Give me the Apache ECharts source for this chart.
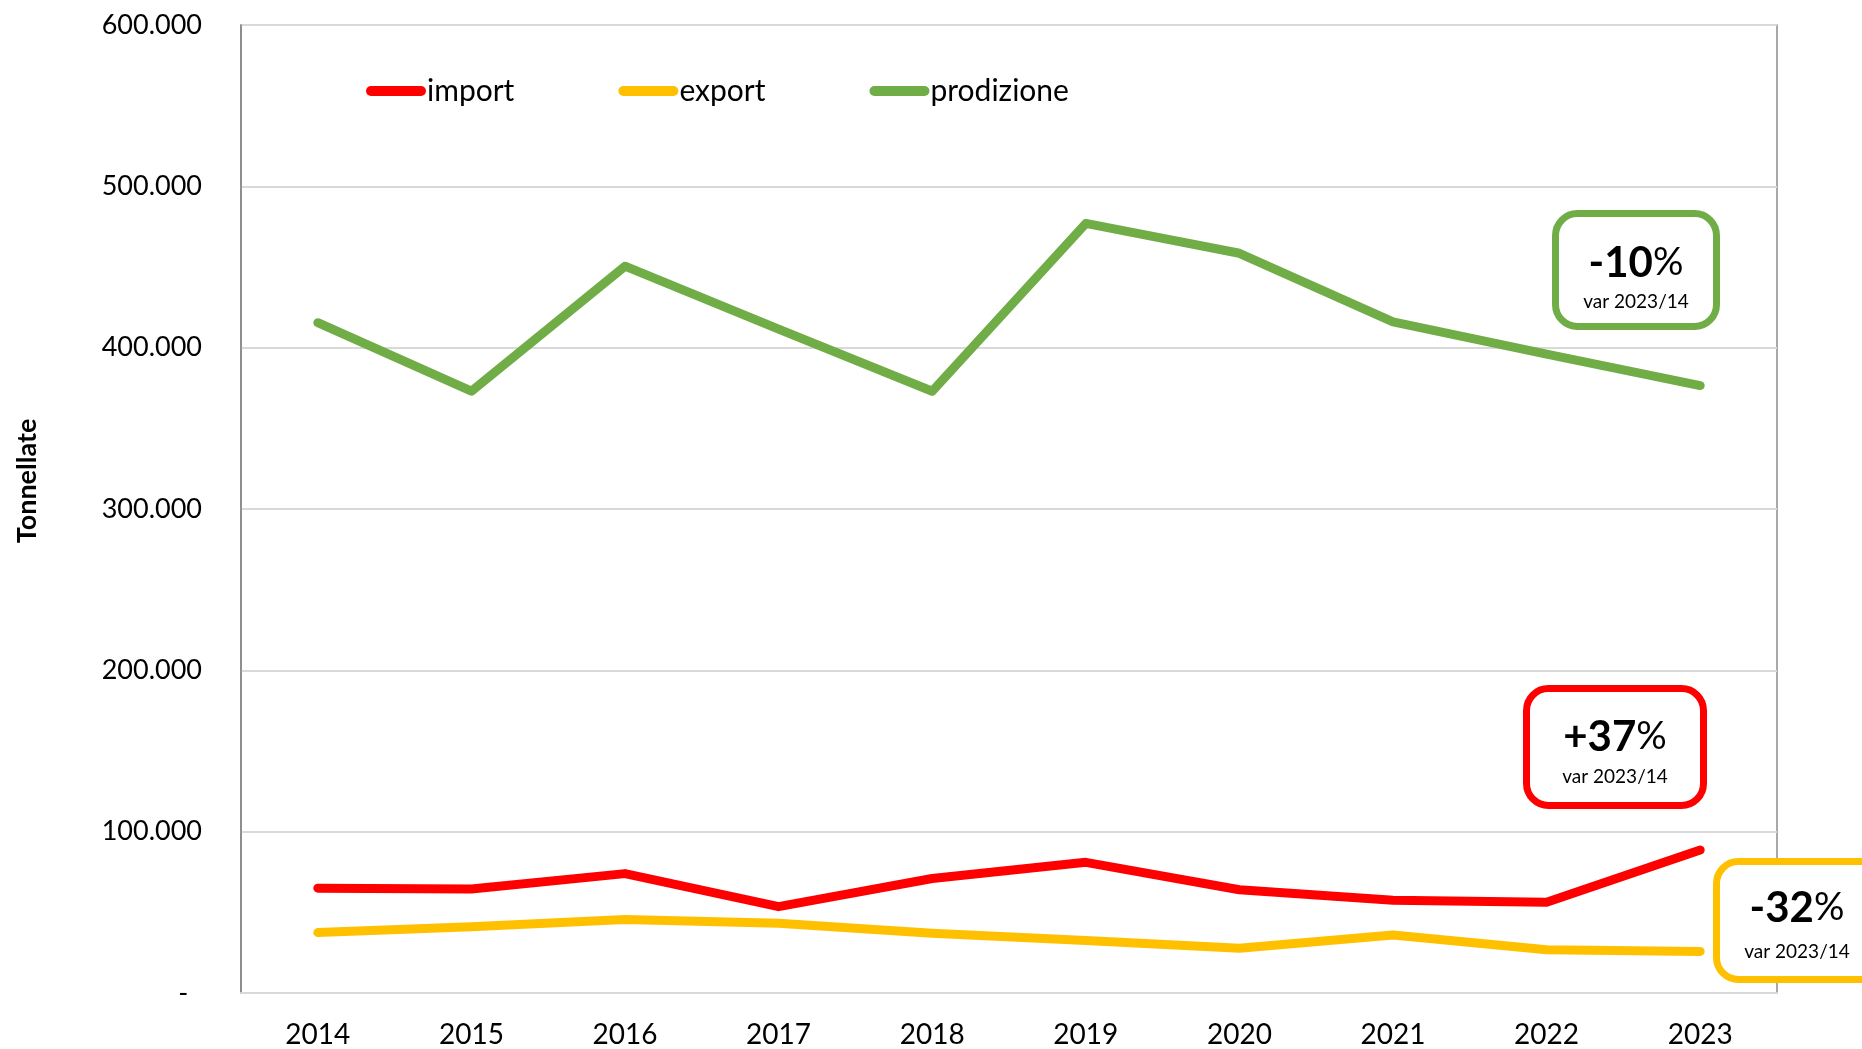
<!DOCTYPE html>
<html>
<head>
<meta charset="utf-8">
<title>import / export / prodizione</title>
<script src="https://cdn.jsdelivr.net/npm/echarts@6/dist/echarts.min.js"></script>
<style>
  html, body { margin: 0; padding: 0; background: #fff; }
  #main { width: 1862px; height: 1049px; }
</style>
</head>
<body>
<div id="main"></div>
<script>
// anni
var years = ['2014', '2015', '2016', '2017', '2018', '2019', '2020', '2021', '2022', '2023'];
// tonnellate
var importData = [65000, 64500, 74000, 53500, 71000, 81000, 64000, 57500, 56300, 88600];
var exportData = [37500, 41000, 45500, 43300, 37000, 32500, 27800, 36000, 26800, 25800];
var prodData = [415500, 373000, 450500, 411500, 373000, 477000, 458500, 416000, 396000, 376500];
// riquadri var 2023/14
var varLabels = ['+37', '-32', '-10'];

var FONT = 'Lato, "Open Sans", sans-serif';
var RED = '#FF0000', YELLOW = '#FFC000', GREEN = '#70AD47';

function fmtTon(v) {
    if (v === 0) return '-  ';
    return (v / 1000) + '.000';
}

// box con variazione %
function varBox(x, y, w, h, color, label, cx, cy1, cy2) {
    return {
        type: 'group',
        z: 100,
        children: [
            {
                type: 'rect',
                shape: { x: x, y: y, width: w, height: h, r: 22 },
                style: { fill: '#fff', stroke: color, lineWidth: 7 }
            },
            {
                type: 'text',
                x: cx, y: cy1,
                style: {
                    text: '{b|' + label + '}{p|%}',
                    align: 'center', verticalAlign: 'middle',
                    rich: {
                        b: { fontFamily: FONT, fontSize: 42, fontWeight: 'bold', fill: '#000' },
                        p: { fontFamily: FONT, fontSize: 38, fontWeight: 'normal', fill: '#000' }
                    }
                }
            },
            {
                type: 'text',
                x: cx, y: cy2,
                style: {
                    text: 'var 2023/14', fontFamily: FONT, fontSize: 19, fill: '#000',
                    align: 'center', verticalAlign: 'middle'
                }
            }
        ]
    };
}

var myChart = echarts.init(document.getElementById('main'));

var option = {
    backgroundColor: '#fff',
    animation: false,
    grid: {
        left: 241, right: 85, top: 25, bottom: 54,
        show: true, borderColor: '#8c8c8c', borderWidth: 1.5
    },
    legend: {
        left: 361, top: 70,
        itemWidth: 60, itemHeight: 10, itemGap: 104,
        icon: 'path://M5,0 L55,0 A5,5 0 0 1 55,10 L5,10 A5,5 0 0 1 5,0 Z',
        textStyle: { fontFamily: FONT, fontSize: 30, color: '#000', lineHeight: 32, padding: [0, 0, 0, -4] },
        data: ['import', 'export', 'prodizione']
    },
    xAxis: {
        type: 'category',
        data: years,
        boundaryGap: true,
        axisTick: { show: false },
        axisLine: { show: true, lineStyle: { color: '#d9d9d9', width: 2 } },
        axisLabel: { fontFamily: FONT, fontSize: 28, color: '#000', margin: 28 }
    },
    yAxis: {
        type: 'value',
        min: 0, max: 600000, interval: 100000,
        axisLine: { show: true, lineStyle: { color: '#868686', width: 1.5 } },
        axisTick: { show: false },
        splitLine: { lineStyle: { color: '#d9d9d9', width: 2 } },
        axisLabel: { fontFamily: FONT, fontSize: 27, color: '#000', margin: 39, formatter: fmtTon }
    },
    series: [
        {
            name: 'import', type: 'line', data: importData,
            symbol: 'none', color: RED, z: 4,
            lineStyle: { width: 9, color: RED, cap: 'round', join: 'round' }
        },
        {
            name: 'export', type: 'line', data: exportData,
            symbol: 'none', color: YELLOW, z: 3,
            lineStyle: { width: 9, color: YELLOW, cap: 'round', join: 'round' }
        },
        {
            name: 'prodizione', type: 'line', data: prodData,
            symbol: 'none', color: GREEN, z: 3,
            lineStyle: { width: 9, color: GREEN, cap: 'round', join: 'round' }
        }
    ],
    graphic: [
        {
            type: 'text',
            x: 27, y: 481,
            rotation: Math.PI / 2,
            style: {
                text: 'Tonnellate', fontFamily: FONT, fontSize: 27, fontWeight: 'bold',
                fill: '#000', align: 'center', verticalAlign: 'middle'
            }
        },
        varBox(1526.5, 688.5, 177, 117, RED, varLabels[0], 1615, 737, 777),
        varBox(1716.5, 861.5, 177, 118, YELLOW, varLabels[1], 1797, 908, 952),
        varBox(1555.5, 213.5, 161, 113, GREEN, varLabels[2], 1636, 263, 302)
    ]
};

myChart.setOption(option);
</script>
</body>
</html>
